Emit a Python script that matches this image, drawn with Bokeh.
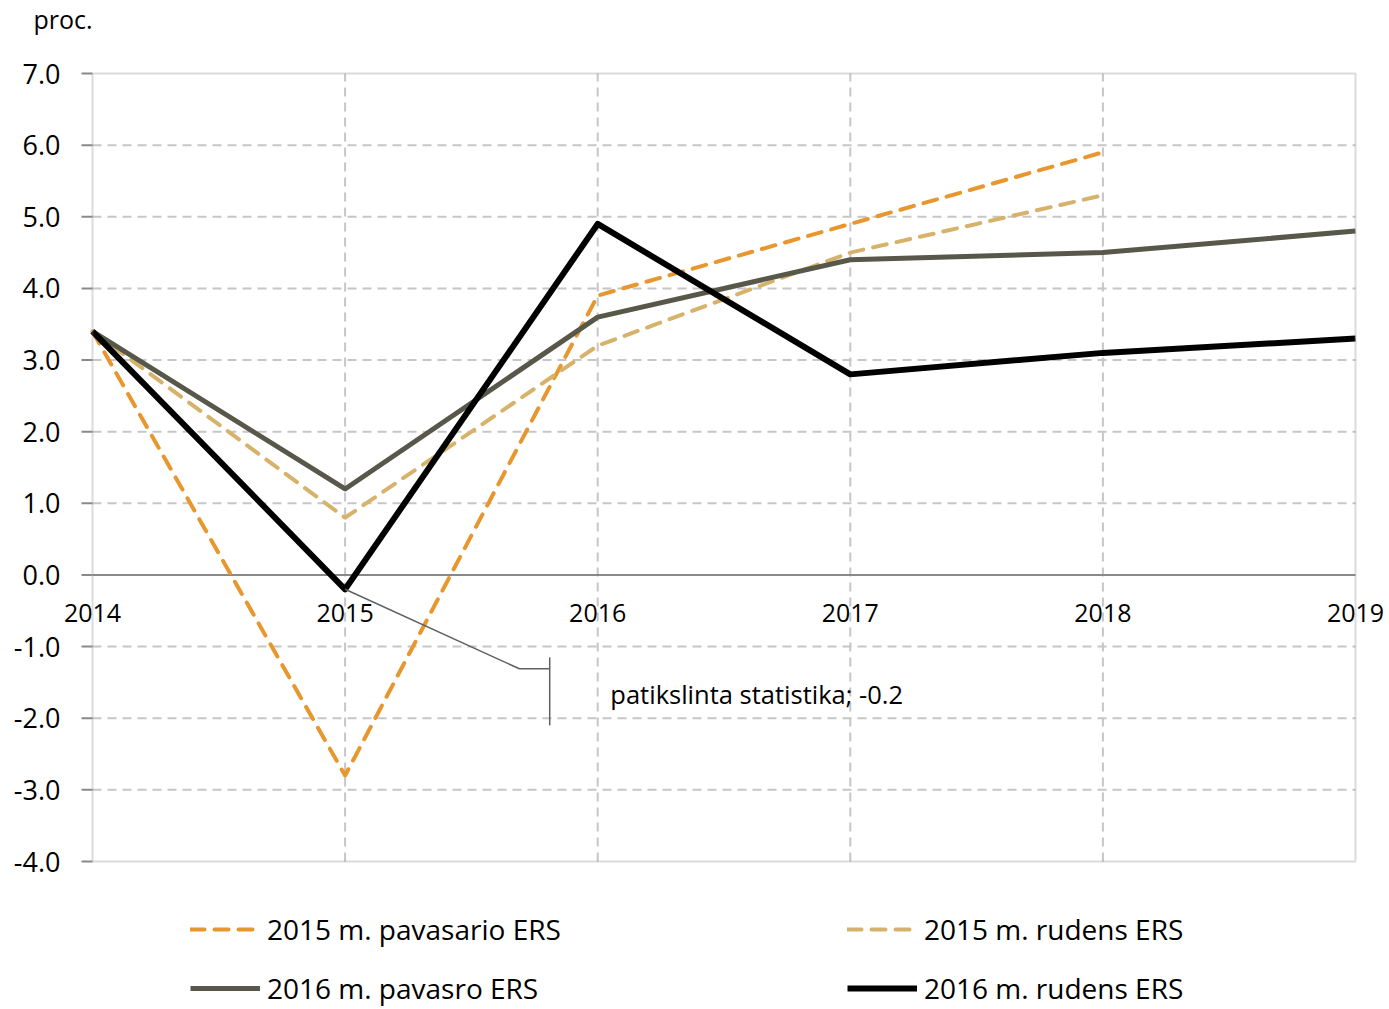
from bokeh.plotting import figure
from bokeh.models import Range1d, Legend, LegendItem, Label, BoxAnnotation
from bokeh.core.properties import value
from bokeh.embed import file_html
from bokeh.resources import INLINE

years = [2014, 2015, 2016, 2017, 2018, 2019]
year_labels = ["2014", "2015", "2016", "2017", "2018", "2019"]
spring_2015 = [3.4, -2.8, 3.9, 4.9, 5.9]
autumn_2015 = [3.4, 0.8, 3.2, 4.5, 5.3]
spring_2016 = [3.4, 1.2, 3.6, 4.4, 4.5, 4.8]
autumn_2016 = [3.4, -0.2, 4.9, 2.8, 3.1, 3.3]
y_ticks = [-4, -3, -2, -1, 0, 1, 2, 3, 4, 5, 6, 7]
y_tick_labels = ["-4.0", "-3.0", "-2.0", "-1.0", "0.0", "1.0", "2.0", "3.0", "4.0", "5.0", "6.0", "7.0"]
series_names = ["2015 m. pavasario ERS", "2015 m. rudens ERS", "2016 m. pavasro ERS", "2016 m. rudens ERS"]
unit_label = "proc."
note_text = "patikslinta statistika; -0.2"
note_leader_x = [2015, 2015.69, 2015.81]
note_leader_y = [-0.2, -1.31, -1.31]
note_bar_x = [2015.81, 2015.81]
note_bar_y = [-1.15, -2.1]
note_pos = (2016.05, -1.66)

FONT = "Open Sans"
GRAY = "#898989"
GRID = "#c6c6c6"

# layout (pixels)
W, H = 1389, 1009
PLOT_L, PLOT_R, PLOT_T, PLOT_B = 92, 1355, 73, 861
x0, x1 = years[0], years[-1]
y0, y1 = y_ticks[0], y_ticks[-1]
pxx = (PLOT_R - PLOT_L) / (x1 - x0)
pxy = (PLOT_B - PLOT_T) / (y1 - y0)

p = figure(width=W, height=H, output_backend="svg", toolbar_location=None,
           x_range=Range1d(x0 - PLOT_L / pxx, x1 + (W - PLOT_R) / pxx),
           y_range=Range1d(y0 - (H - PLOT_B) / pxy, y1 + PLOT_T / pxy))
p.min_border_left = p.min_border_right = p.min_border_top = p.min_border_bottom = 0
p.axis.visible = False
p.grid.visible = False
p.outline_line_color = None
p.background_fill_color = "white"
p.border_fill_color = "white"

# grid lines (dashed), interior only
inner_years = years[1:-1]
p.segment(x0=inner_years, y0=[y0] * len(inner_years), x1=inner_years, y1=[y1] * len(inner_years),
          line_color=GRID, line_width=2, line_dash="9 6")
inner_y = [t for t in y_ticks if t not in (y0, y1, 0)]
p.segment(x0=[x0] * len(inner_y), y0=inner_y, x1=[x1] * len(inner_y), y1=inner_y,
          line_color=GRID, line_width=2, line_dash="9 6")
# zero axis line
p.segment(x0=[x0], y0=[0], x1=[x1], y1=[0], line_color=GRAY, line_width=2)
# y ticks
p.segment(x0=[x0] * len(y_ticks), y0=y_ticks, x1=[x0 - 11 / pxx] * len(y_ticks), y1=y_ticks,
          line_color=GRAY, line_width=2)
# frame border
p.add_layout(BoxAnnotation(left=x0, right=x1, bottom=y0, top=y1, fill_color=None,
                           line_color=GRAY, line_width=2))

# tick labels
p.text(x=[x0] * len(y_ticks), y=y_ticks, text=y_tick_labels, x_offset=-32,
       text_align="right", text_baseline="middle", text_font=value(FONT),
       text_font_size="27px", text_color="black")
p.text(x=years, y=[0] * len(years), text=year_labels, y_offset=38,
       text_align="center", text_baseline="middle", text_font=value(FONT),
       text_font_size="25px", text_color="black")

# series
r1 = p.line(years[:len(spring_2015)], spring_2015, line_color="#E8962E", line_width=4,
            line_dash="14 10", line_join="round", line_cap="round")
r2 = p.line(years[:len(autumn_2015)], autumn_2015, line_color="#D6B26A", line_width=4,
            line_dash="14 10", line_join="round", line_cap="round")
r3 = p.line(years, spring_2016, line_color="#58584A", line_width=5, line_join="round")
r4 = p.line(years, autumn_2016, line_color="black", line_width=6, line_join="round")

# annotation
p.line(note_leader_x, note_leader_y, line_color="#606060", line_width=1.5)
p.line(note_bar_x, note_bar_y, line_color="#606060", line_width=1.5)
p.add_layout(Label(x=note_pos[0], y=note_pos[1], text=note_text, text_font=FONT,
                   text_font_size="25.5px", text_baseline="middle", text_color="black"))

# unit label
p.add_layout(Label(x=x0, y=y1, x_offset=-59, y_offset=55, text=unit_label, text_font=FONT,
                   text_font_size="25px", text_baseline="middle", text_color="black"))

order = [0, 2, 1, 3]
renderers = [r1, r2, r3, r4]
legend = Legend(items=[LegendItem(label=series_names[i], renderers=[renderers[i]]) for i in order],
                ncols=2, location=(190, 2))
legend.glyph_width = 70
legend.glyph_height = 24
legend.label_height = 24
legend.label_standoff = 7
legend.label_width = 559
legend.spacing = 21
legend.padding = 0
legend.margin = 0
legend.border_line_color = None
legend.background_fill_alpha = 0
legend.label_text_font = FONT
legend.label_text_font_size = "28px"
legend.label_text_color = "black"
p.add_layout(legend, "center")

open("out.html", "w").write(file_html(p, INLINE))
